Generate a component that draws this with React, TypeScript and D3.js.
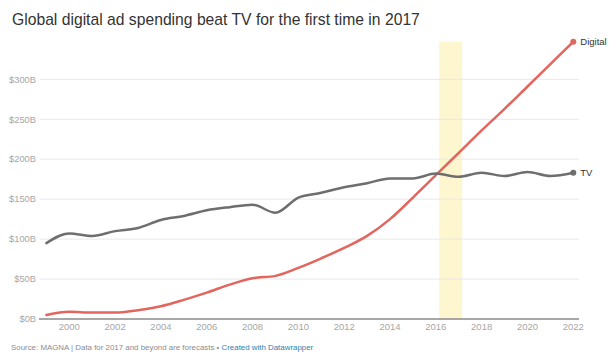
import React from 'react';
import * as d3 from 'd3';

const years = d3.range(1999, 2023);
const tvValues = [95, 107, 104, 110, 114, 124, 129, 136, 140, 143, 133, 152, 158, 165, 170, 176, 176, 182, 178, 183, 179, 184, 179, 183];
const digitalValues = [5, 9, 8, 8, 11, 16, 24, 33, 43, 51, 54, 64, 76, 89, 104, 125, 152, 180, 208, 236, 263, 291, 319, 347];
const yTicks = [0, 50, 100, 150, 200, 250, 300];
const xTicks = [2000, 2002, 2004, 2006, 2008, 2010, 2012, 2014, 2016, 2018, 2020, 2022];
const highlight = [2016.15, 2017.15];

const W = 612;
const H = 360;
const font = '"Liberation Sans", Arial, sans-serif';

const App: React.FC = () => {
  const x = d3.scaleLinear().domain([2000, 2022]).range([69.3, 573.3]);
  const y = d3.scaleLinear().domain([0, 300]).range([319, 79.3]);

  const line = d3.line<number>()
    .x((_, i) => x(years[i]))
    .y(d => y(d))
    .curve(d3.curveMonotoneX);

  const series = [
    { name: 'Digital', values: digitalValues, color: '#e2665e' },
    { name: 'TV', values: tvValues, color: '#6e6e6e' },
  ];

  const topVal = d3.max(digitalValues) as number;

  return (
    <svg width={W} height={H} style={{ position: 'absolute', left: 0, top: 0, background: '#fff' }} fontFamily={font}>
      <text x={12} y={25} fontSize={15.7} fill="#333">Global digital ad spending beat TV for the first time in 2017</text>

      {/* highlight band */}
      <rect x={x(highlight[0])} width={x(highlight[1]) - x(highlight[0])} y={y(topVal)} height={y(0) - y(topVal)} fill="#fdf6cf" />

      {/* grid */}
      {yTicks.filter(t => t > 0).map(t => (
        <line key={t} x1={40} x2={579} y1={y(t)} y2={y(t)} stroke="#e8e8e8" strokeWidth={1} />
      ))}
      {yTicks.map(t => (
        <text key={t} x={36} y={y(t)} dy="0.35em" textAnchor="end" fontSize={9.3} fill="#a6a6a6">${t}B</text>
      ))}

      {/* x axis */}
      <line x1={39} x2={579} y1={y(0)} y2={y(0)} stroke="#8a8a8a" strokeWidth={1.5} />
      {xTicks.map(t => (
        <text key={t} x={x(t)} y={327} dy="0.35em" textAnchor="middle" fontSize={9.5} fill="#a6a6a6">{t}</text>
      ))}

      {series.map(s => (
        <g key={s.name}>
          <path d={line(s.values) || ''} fill="none" stroke={s.color} strokeWidth={2.5} strokeLinejoin="round" strokeLinecap="round" />
          <circle cx={x(years[years.length - 1])} cy={y(s.values[s.values.length - 1])} r={3} fill={s.color} />
          <text x={x(years[years.length - 1]) + 7} y={y(s.values[s.values.length - 1])} dy="0.35em" fontSize={9.5} fill="#333">{s.name}</text>
        </g>
      ))}

      <text x={11} y={347} dy="0.35em" fontSize={7.9} fill="#8c8c8c">
        Source: MAGNA | Data for 2017 and beyond are forecasts •{' '}
        <tspan fill="#2a7fb0">Created with Datawrapper</tspan>
      </text>
    </svg>
  );
};

export default App;
